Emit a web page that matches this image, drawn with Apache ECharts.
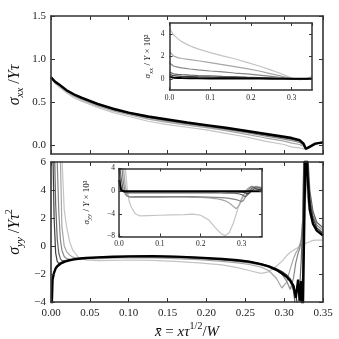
<!DOCTYPE html>
<html>
<head>
<meta charset="utf-8">
<script src="https://cdn.jsdelivr.net/npm/echarts@6/dist/echarts.min.js"></script>
<style>
  html, body { margin: 0; padding: 0; background: #fff; }
  #chart { width: 339px; height: 339px; }
</style>
</head>
<body>
<div id="chart"></div>
<script>
// top panel: sigma_xx / Y tau
const xTop = [0, 0.005, 0.01, 0.02, 0.03, 0.04, 0.06, 0.08, 0.10, 0.125, 0.15, 0.175, 0.20, 0.225, 0.25, 0.275, 0.30, 0.31, 0.32, 0.325, 0.328, 0.332, 0.34, 0.35];
const sxx0 = [0.78, 0.72, 0.68, 0.61, 0.55, 0.51, 0.44, 0.38, 0.335, 0.28, 0.24, 0.21, 0.18, 0.14, 0.10, 0.05, 0.01, -0.02, -0.03, -0.04, -0.05, -0.03, 0.01, 0.04];
const sxx1 = [0.785, 0.729, 0.694, 0.624, 0.568, 0.528, 0.458, 0.40, 0.355, 0.305, 0.267, 0.235, 0.205, 0.17, 0.131, 0.088, 0.05, 0.027, 0.01, -0.013, -0.046, -0.026, 0.015, 0.038];
const sxx2 = [0.787, 0.734, 0.70, 0.63, 0.578, 0.538, 0.468, 0.41, 0.366, 0.318, 0.282, 0.248, 0.218, 0.185, 0.149, 0.11, 0.073, 0.054, 0.033, 0.002, -0.043, -0.023, 0.017, 0.036];
const sxx3 = [0.788, 0.737, 0.705, 0.635, 0.584, 0.544, 0.474, 0.418, 0.373, 0.327, 0.291, 0.257, 0.227, 0.195, 0.16, 0.122, 0.087, 0.07, 0.047, 0.011, -0.041, -0.021, 0.019, 0.035];
const sxx4 = [0.79, 0.738, 0.707, 0.637, 0.586, 0.546, 0.476, 0.421, 0.376, 0.33, 0.295, 0.26, 0.23, 0.20, 0.165, 0.129, 0.094, 0.078, 0.054, 0.016, -0.04, -0.02, 0.02, 0.035];
const sxx5 = [0.79, 0.74, 0.71, 0.64, 0.59, 0.55, 0.48, 0.425, 0.38, 0.335, 0.30, 0.265, 0.235, 0.205, 0.17, 0.135, 0.10, 0.085, 0.06, 0.02, -0.04, -0.02, 0.02, 0.035];

// top inset: sigma_xx / Y x 10^2
const xIn1 = [0, 0.01, 0.02, 0.03, 0.05, 0.07, 0.10, 0.13, 0.16, 0.19, 0.22, 0.25, 0.27, 0.29, 0.30, 0.31, 0.32, 0.33, 0.34, 0.35];
const dxx0 = [4.5, 3.95, 3.6, 3.33, 2.95, 2.68, 2.35, 2.05, 1.8, 1.48, 1.15, 0.78, 0.52, 0.22, 0.08, -0.03, -0.07, -0.05, 0.08, 0.25];
const dxx1 = [2.45, 2.05, 1.9, 1.82, 1.72, 1.62, 1.45, 1.28, 1.1, 0.92, 0.7, 0.45, 0.28, 0.1, 0.03, -0.03, -0.06, -0.04, 0.02, 0.08];
const dxx2 = [1.42, 1.15, 1.05, 0.98, 0.88, 0.8, 0.7, 0.62, 0.52, 0.44, 0.34, 0.22, 0.14, 0.06, 0.02, -0.02, -0.04, -0.03, 0.0, 0.03];
const dxx3 = [0.6, 0.45, 0.4, 0.37, 0.33, 0.3, 0.26, 0.22, 0.19, 0.15, 0.12, 0.08, 0.05, 0.02, 0.0, -0.01, -0.02, -0.02, 0.0, 0.02];
const dxx4 = [0.4, 0.28, 0.25, 0.22, 0.2, 0.18, 0.15, 0.13, 0.11, 0.09, 0.07, 0.05, 0.03, 0.01, 0.0, -0.01, -0.01, -0.01, 0.0, 0.01];
const dxx5 = [0.2, 0.1, 0.08, 0.07, 0.06, 0.05, 0.04, 0.035, 0.03, 0.025, 0.02, 0.015, 0.01, 0.005, 0.0, 0.0, 0.0, 0.0, 0.0, 0.0];

// bottom panel: sigma_yy / Y tau^2
const xBot = [0, 0.002, 0.004, 0.006, 0.008, 0.01, 0.012, 0.014, 0.017, 0.02, 0.024, 0.028, 0.035, 0.045, 0.06, 0.08, 0.10, 0.13, 0.16, 0.19, 0.22, 0.24, 0.255, 0.27, 0.28, 0.29, 0.297, 0.303, 0.308, 0.312, 0.315, 0.318, 0.32, 0.322, 0.324, 0.326, 0.328, 0.33, 0.333, 0.337, 0.342, 0.35];
const syy0 = [12, 12, 12, 12, 12, 12, 9, 6.5, 2.6, 1.4, 0.3, -0.3, -0.8, -1.0, -1.05, -1.02, -1.0, -1.02, -1.1, -1.2, -1.35, -1.55, -1.75, -1.95, -1.85, -1.45, -1.1, -0.7, -0.45, -0.3, -0.2, -0.1, 0.0, 0.05, 0.1, 0.15, 0.2, 0.25, 0.3, 0.4, 0.42, 0.42];
const syy1 = [12, 12, 12, 12, 12, 9, 6.5, 1.4, 0.0, -0.4, -0.65, -0.8, -0.88, -0.92, -0.9, -0.86, -0.84, -0.85, -0.9, -0.98, -1.1, -1.2, -1.32, -1.5, -1.75, -2.3, -3.0, -2.6, -1.6, -0.9, -0.5, -0.2, 0.1, 0.4, 1.0, 3, 5, 3.5, 2.3, 1.6, 1.2, 1.0];
const syy2 = [12, 12, 12, 9, 6, 2.5, 0.5, -0.3, -0.75, -0.9, -0.95, -0.95, -0.92, -0.88, -0.84, -0.8, -0.78, -0.78, -0.82, -0.9, -1.0, -1.1, -1.2, -1.35, -1.5, -1.75, -2.0, -2.5, -3.1, -2.3, -1.2, -0.5, -0.2, 0.5, 2, 8, 9, 6, 3.5, 2.2, 1.5, 1.1];
const syy3 = [12, 12, 8, 3, 0.5, -0.5, -0.9, -1.05, -1.05, -1.02, -0.98, -0.95, -0.9, -0.86, -0.82, -0.78, -0.75, -0.74, -0.78, -0.85, -0.95, -1.05, -1.15, -1.3, -1.45, -1.65, -1.85, -2.1, -2.5, -3.2, -4.5, -5, -3, -1, 2, 9, 9, 7, 4, 2.5, 1.7, 1.3];
const syy4 = [12, 8, 2, -0.5, -1.1, -1.25, -1.2, -1.15, -1.1, -1.05, -1.0, -0.96, -0.9, -0.85, -0.81, -0.77, -0.74, -0.72, -0.76, -0.83, -0.93, -1.03, -1.12, -1.27, -1.42, -1.62, -1.82, -2.05, -2.35, -2.8, -3.5, -4.5, -5, -5, -2, 9, 9, 6, 3.2, 2.0, 1.3, 0.9];
const syy5 = [-6, -2.4, -1.9, -1.6, -1.45, -1.35, -1.27, -1.2, -1.13, -1.08, -1.02, -0.97, -0.91, -0.86, -0.81, -0.77, -0.74, -0.72, -0.76, -0.83, -0.93, -1.02, -1.12, -1.3, -1.45, -1.7, -1.95, -2.2, -2.5, -2.85, -3.7, -2.4, -3.9, -2.5, -5, -5, 9, 5, 2.6, 1.6, 1.1, 0.75];

// bottom inset: sigma_yy / Y x 10^3
const xIn2 = [0, 0.005, 0.01, 0.015, 0.02, 0.025, 0.03, 0.04, 0.05, 0.07, 0.10, 0.13, 0.16, 0.18, 0.20, 0.22, 0.235, 0.25, 0.26, 0.27, 0.28, 0.287, 0.295, 0.30, 0.305, 0.31, 0.315, 0.32, 0.325, 0.33, 0.335, 0.34, 0.35];
const dyy0 = [8, 8, 7, 4.5, 0.5, -1.8, -2.8, -4.0, -4.35, -4.3, -4.25, -4.2, -4.15, -4.05, -4.25, -5.1, -6.4, -7.5, -7.85, -7.3, -5.6, -4.0, -2.2, -1.2, -0.6, -0.2, 0.3, 0.6, 0.8, 0.75, 0.8, 0.7, 0.6];
const dyy1 = [8, 8, 5, 1.0, -0.6, -1.0, -1.1, -1.12, -1.12, -1.1, -1.08, -1.05, -1.05, -1.08, -1.12, -1.2, -1.3, -1.5, -1.7, -2.1, -2.7, -3.1, -2.4, -1.5, -0.7, 0.0, 0.45, 0.7, 0.9, 0.7, 0.85, 0.75, 0.65];
const dyy2 = [8, 6, 2, -0.5, -0.9, -1.0, -1.0, -0.98, -0.97, -0.96, -0.95, -0.95, -0.95, -0.97, -1.0, -1.05, -1.1, -1.15, -1.2, -1.28, -1.4, -1.5, -1.7, -1.85, -1.6, -0.9, -0.1, 0.5, 0.8, 0.6, 0.8, 0.7, 0.6];
const dyy3 = [6, 2.5, 0.2, -0.25, -0.3, -0.3, -0.3, -0.3, -0.3, -0.3, -0.3, -0.3, -0.3, -0.3, -0.3, -0.3, -0.3, -0.32, -0.33, -0.34, -0.35, -0.4, -0.5, -0.6, -0.8, -1.0, -0.6, 0.0, 0.5, 0.7, 0.5, 0.6, 0.5];
const dyy4 = [4, 0.5, -0.1, -0.1, -0.1, -0.1, -0.1, -0.1, -0.1, -0.1, -0.1, -0.1, -0.1, -0.1, -0.1, -0.1, -0.1, -0.1, -0.1, -0.12, -0.13, -0.14, -0.16, -0.18, -0.2, -0.3, -0.5, -0.3, 0.1, 0.4, 0.4, 0.3, 0.3];
const dyy5 = [2, 0.2, 0, 0, 0, 0, 0, 0, 0, 0, 0, 0, 0, 0, 0, 0, 0, 0, 0, 0, 0, 0, 0, 0, 0, 0, 0, 0, 0, 0, 0, 0, 0];

const shades = ["#c4c4c4", "#a6a6a6", "#868686", "#646464", "#3c3c3c", "#000000"];
const FONT = '"Liberation Serif", "DejaVu Serif", serif';
const INK = "#333";

const minus = (v) => (v < 0 ? "\u2212" + Math.abs(v) : String(v));

const chart = echarts.init(document.getElementById("chart"), null, { renderer: "canvas" });

// axis helper, ticks point inward like the matplotlib figure
const mkAxis = (grid, pos, o) => {
  return {
    type: "value",
    gridIndex: grid,
    position: pos,
    min: o.min,
    max: o.max,
    interval: o.interval,
    z: o.z,
    axisLine: { show: true, onZero: false, lineStyle: { color: INK, width: o.lw || 1.6 } },
    axisTick: {
      show: true,
      inside: true,
      length: o.tick || 4,
      lineStyle: { color: INK, width: 1 },
      customValues: o.values,
    },
    axisLabel: {
      show: !!o.label,
      fontFamily: FONT,
      fontSize: o.fs || 11,
      color: "#222",
      margin: o.margin || 5,
      formatter: o.fmt,
      customValues: o.values,
      showMaxLabel: o.noMax ? false : null,
    },
    splitLine: { show: false },
    name: o.name,
    nameLocation: "middle",
    nameGap: o.gap,
    nameRotate: o.rot,
    nameMoveOverlap: false,
    nameTextStyle: o.nts,
  };
};

const grids = [
  { left: 51, top: 16, width: 272, height: 138 },
  { left: 51, top: 162, width: 272, height: 140 },
  { left: 169.5, top: 23, width: 142.5, height: 67, z: 5, show: true, backgroundColor: "#fff", borderWidth: 0 },
  { left: 119, top: 168.5, width: 143, height: 68, z: 5, show: true, backgroundColor: "#fff", borderWidth: 0 },
].map((g) => Object.assign({ outerBoundsMode: "none", containLabel: false }, g));

const bigRich = {
  i: { fontFamily: FONT, fontStyle: "italic", fontSize: 16, lineHeight: 22, color: "#111" },
  n: { fontFamily: FONT, fontSize: 16, lineHeight: 22, color: "#111" },
  sb: { fontFamily: FONT, fontStyle: "italic", fontSize: 11, lineHeight: 12, verticalAlign: "bottom", color: "#111" },
  sp: { fontFamily: FONT, fontSize: 10, lineHeight: 12, verticalAlign: "top", color: "#111" },
};
const xRich = {
  i: { fontFamily: FONT, fontStyle: "italic", fontSize: 15, lineHeight: 22, color: "#111" },
  n: { fontFamily: FONT, fontSize: 15, lineHeight: 22, color: "#111" },
  sp: { fontFamily: FONT, fontSize: 10, lineHeight: 12, verticalAlign: "top", color: "#111" },
};
const smallRich = {
  i: { fontFamily: FONT, fontStyle: "italic", fontSize: 9, lineHeight: 13, color: "#111" },
  n: { fontFamily: FONT, fontSize: 9, lineHeight: 13, color: "#111" },
  sb: { fontFamily: FONT, fontStyle: "italic", fontSize: 7, lineHeight: 8, verticalAlign: "bottom", color: "#111" },
};

const f1 = (v) => v.toFixed(1);
const f2 = (v) => v.toFixed(2);

const xAxes = [
  mkAxis(0, "bottom", { min: 0, max: 0.35, interval: 0.05, z: 3 }),
  mkAxis(0, "top", { min: 0, max: 0.35, interval: 0.05, z: 3 }),
  mkAxis(1, "bottom", {
    min: 0, max: 0.35, interval: 0.05, z: 3, label: true, fmt: f2, margin: 6,
    name: "{i|x\u0304}{n| = }{i|x\u03c4}{sp|1/2}{n|/}{i|W}", gap: 19, nts: { rich: xRich },
  }),
  mkAxis(1, "top", { min: 0, max: 0.35, interval: 0.05, z: 3 }),
  mkAxis(2, "bottom", { min: 0, max: 0.35, interval: 0.1, z: 8, label: true, fs: 7.5, fmt: f1, tick: 3, lw: 1.5, margin: 4, noMax: true }),
  mkAxis(2, "top", { min: 0, max: 0.35, interval: 0.1, z: 8, tick: 3, lw: 1.5 }),
  mkAxis(3, "bottom", { min: 0, max: 0.35, interval: 0.1, z: 8, label: true, fs: 7.5, fmt: f1, tick: 3, lw: 1.5, margin: 4, noMax: true }),
  mkAxis(3, "top", { min: 0, max: 0.35, interval: 0.1, z: 8, tick: 3, lw: 1.5 }),
];

const yAxes = [
  mkAxis(0, "left", {
    min: -0.1, max: 1.5, values: [0, 0.5, 1.0, 1.5], z: 3, label: true, fmt: f1,
    name: "{i|\u03c3}{sb|xx}{n| /}{i|Y\u03c4}", gap: 25, rot: 90, nts: { rich: bigRich },
  }),
  mkAxis(0, "right", { min: -0.1, max: 1.5, values: [0, 0.5, 1.0, 1.5], z: 3 }),
  mkAxis(1, "left", {
    min: -4, max: 6, interval: 2, z: 3, label: true, fmt: minus,
    name: "{i|\u03c3}{sb|yy}{n| /}{i|Y\u03c4}{sp|2}", gap: 25, rot: 90, nts: { rich: bigRich },
  }),
  mkAxis(1, "right", { min: -4, max: 6, interval: 2, z: 3 }),
  mkAxis(2, "left", {
    min: -1, max: 5, values: [0, 2, 4], z: 8, label: true, fs: 7.5, fmt: minus, tick: 3, lw: 1.5, margin: 5,
    name: "{i|\u03c3}{sb|xx}{n| / }{i|Y}{n| \u00d7 10\u00b2}", gap: 15, rot: 90, nts: { rich: smallRich },
  }),
  mkAxis(2, "right", { min: -1, max: 5, values: [0, 2, 4], z: 8, tick: 3, lw: 1.5 }),
  mkAxis(3, "left", {
    min: -8, max: 4, interval: 4, z: 8, label: true, fs: 7.5, fmt: minus, tick: 3, lw: 1.5, margin: 4,
    name: "{i|\u03c3}{sb|yy}{n| / }{i|Y}{n| \u00d7 10\u00b3}", gap: 26, rot: 90, nts: { rich: smallRich },
  }),
  mkAxis(3, "right", { min: -8, max: 4, interval: 4, z: 8, tick: 3, lw: 1.5 }),
];

const panels = [
  { xs: xTop, sets: [sxx0, sxx1, sxx2, sxx3, sxx4, sxx5], xi: 0, yi: 0, z: 2, bw: 2.4 },
  { xs: xBot, sets: [syy0, syy1, syy2, syy3, syy4, syy5], xi: 2, yi: 2, z: 2, bw: 2.4 },
  { xs: xIn1, sets: [dxx0, dxx1, dxx2, dxx3, dxx4, dxx5], xi: 4, yi: 4, z: 6, bw: 2 },
  { xs: xIn2, sets: [dyy0, dyy1, dyy2, dyy3, dyy4, dyy5], xi: 6, yi: 6, z: 6, bw: 2 },
];

let series = [];
panels.forEach((p) => {
  p.sets.forEach((ys, k) => {
    series.push({
      type: "line",
      xAxisIndex: p.xi,
      yAxisIndex: p.yi,
      z: p.z,
      showSymbol: false,
      clip: true,
      silent: true,
      lineStyle: { color: shades[k], width: k === 5 ? p.bw : 1.2 },
      data: ys.map((y, i) => [p.xs[i], y]),
    });
  });
});

chart.setOption({
  animation: false,
  backgroundColor: "#fff",
  grid: grids,
  xAxis: xAxes,
  yAxis: yAxes,
  series: series,
});
</script>
</body>
</html>
